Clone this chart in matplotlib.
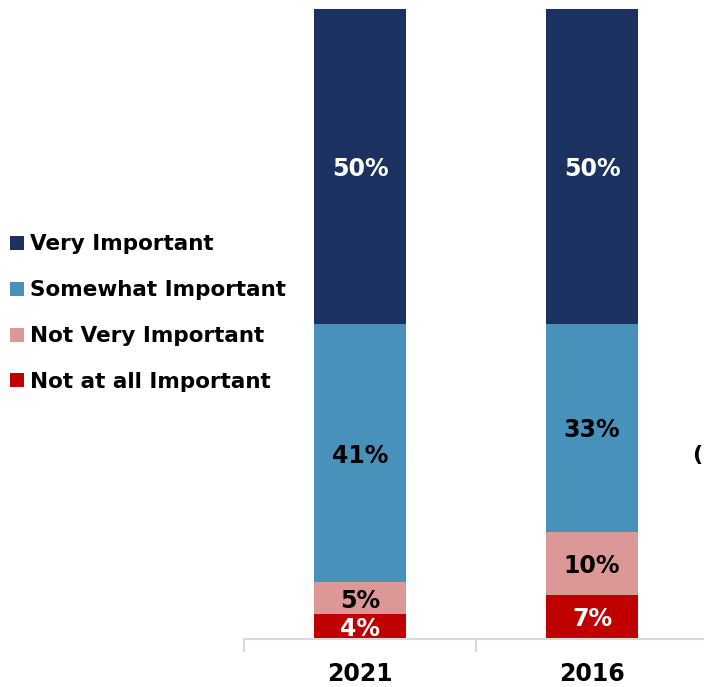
import matplotlib.pyplot as plt
from matplotlib.patches import Patch
import numpy as np

years = ["2021", "2016"]
categories = ["Very Important", "Somewhat Important", "Not Very Important", "Not at all Important"]
# stacked bottom-up: not at all, not very, somewhat, very
not_at_all = [4, 7]
not_very = [5, 10]
somewhat = [41, 33]
very = [50, 50]

colors = {
    "Very Important": "#1b3160",
    "Somewhat Important": "#4891bb",
    "Not Very Important": "#dc9896",
    "Not at all Important": "#c00000",
}
text_colors = {
    "Very Important": "white",
    "Somewhat Important": "black",
    "Not Very Important": "black",
    "Not at all Important": "white",
}

plt.rcParams["font.family"] = ["DejaVu Sans"]
plt.rcParams["font.weight"] = "bold"

fig = plt.figure(figsize=(7.04, 6.87), dpi=100)
ax = fig.add_axes([244 / 704, 48 / 687, 464 / 704, 630 / 687])

x = np.arange(len(years))
stack = [
    ("Not at all Important", not_at_all),
    ("Not Very Important", not_very),
    ("Somewhat Important", somewhat),
    ("Very Important", very),
]
bottom = np.zeros(len(years))
for name, vals in stack:
    vals = np.array(vals, dtype=float)
    ax.bar(x, vals, bottom=bottom, width=0.4, color=colors[name], edgecolor="none")
    for xi, b, v in zip(x, bottom, vals):
        ax.text(xi, b + v / 2 - 0.4, f"{int(v)}%", ha="center", va="center",
                fontsize=17, fontweight="bold", color=text_colors[name])
    bottom += vals

ax.set_xlim(-0.5, 1.5)
ax.set_ylim(0, 100)
ax.set_yticks([])
for s in ["top", "right", "left"]:
    ax.spines[s].set_visible(False)
ax.spines["bottom"].set_color("#d9d9d9")
ax.spines["bottom"].set_linewidth(1.5)
ax.set_xticks([-0.5, 0.5, 1.5], minor=False)
ax.set_xticklabels([])
ax.tick_params(axis="x", length=9, width=1.5, color="#d9d9d9")
for xi, yr in zip(x, years):
    ax.text(xi, -5.6, yr, ha="center", va="center", fontsize=17,
            fontweight="bold", transform=ax.transData, clip_on=False)

handles = [Patch(facecolor=colors[c], edgecolor="none") for c in categories]
fig.legend(handles, categories, loc="upper left", bbox_to_anchor=(4 / 704, 1 - 228 / 687),
           frameon=False, handlelength=0.62, handleheight=0.62,
           handletextpad=0.3, labelspacing=1.2, borderaxespad=0, borderpad=0.3,
           prop={"weight": "bold", "size": 15.5})

fig.text(697 / 704, 1 - 455 / 687, "(", fontsize=16, fontweight="bold",
         ha="center", va="center")

fig.savefig("out.png", dpi=100)
